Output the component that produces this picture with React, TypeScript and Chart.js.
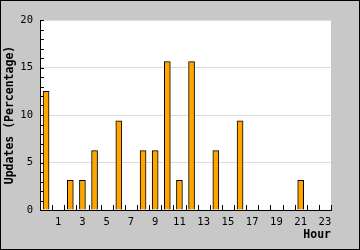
import React, { useEffect, useRef } from "react";
import { Chart, registerables } from "chart.js";

Chart.register(...registerables);

const hours: string[] = [
  "0", "1", "2", "3", "4", "5", "6", "7", "8", "9", "10", "11",
  "12", "13", "14", "15", "16", "17", "18", "19", "20", "21", "22", "23",
];
const updates: number[] = [
  12.5, 0, 3.125, 3.125, 6.25, 0, 9.375, 0, 6.25, 6.25, 15.625, 3.125,
  15.625, 0, 6.25, 0, 9.375, 0, 0, 0, 0, 3.125, 0, 0,
];
const xTickLabels: string[] = hours.map((h, i) => (i % 2 === 1 ? h : ""));
const yMin = 0;
const yMax = 20;
const yStep = 5;
const yMinorStep = 1;

const FONT = "'DejaVu Sans Mono', monospace";

const framePlugin = {
  id: "frame",
  beforeDraw(chart: any) {
    const { ctx, width, height, chartArea } = chart;
    ctx.save();
    ctx.fillStyle = "#c8c8c8";
    ctx.fillRect(0, 0, width, height);
    ctx.strokeStyle = "#000";
    ctx.lineWidth = 1;
    ctx.strokeRect(0.5, 0.5, width - 1, height - 1);
    ctx.fillStyle = "#fff";
    ctx.fillRect(
      chartArea.left,
      chartArea.top,
      chartArea.right - chartArea.left,
      chartArea.bottom - chartArea.top
    );
    ctx.restore();
  },
  afterDraw(chart: any) {
    const { ctx, chartArea } = chart;
    const xs = chart.scales.x;
    const ys = chart.scales.y;
    ctx.save();
    ctx.strokeStyle = "#000";
    ctx.lineWidth = 1;
    ctx.beginPath();
    // x ticks at category boundaries, pointing inward
    for (let i = 0; i <= hours.length; i++) {
      const px = Math.round(xs.getPixelForValue(i - 0.5)) + 0.5;
      ctx.moveTo(px, chartArea.bottom);
      ctx.lineTo(px, chartArea.bottom - 5);
    }
    // y minor ticks, pointing inward
    for (let v = yMin; v <= yMax; v += yMinorStep) {
      const py = Math.round(ys.getPixelForValue(v)) + 0.5;
      ctx.moveTo(chartArea.left, py);
      ctx.lineTo(chartArea.left + 4, py);
    }
    ctx.stroke();
    ctx.restore();
  },
};

export default function App() {
  const ref = useRef<HTMLCanvasElement>(null);
  useEffect(() => {
    if (!ref.current) return;
    const chart = new Chart(ref.current, {
      type: "bar",
      data: {
        labels: hours,
        datasets: [
          {
            data: updates,
            backgroundColor: "#ffa500",
            borderColor: "#000",
            borderWidth: 1,
            barThickness: 6,
          },
        ],
      },
      options: {
        responsive: false,
        animation: false,
        layout: { padding: { top: 20, right: 29, left: 0, bottom: 0 } },
        plugins: {
          legend: { display: false },
          tooltip: { enabled: false },
        },
        scales: {
          x: {
            type: "category",
            offset: true,
            grid: { display: false, drawTicks: false },
            border: { display: true, color: "#000", width: 1 },
            ticks: {
              autoSkip: false,
              maxRotation: 0,
              minRotation: 0,
              padding: 6,
              color: "#000",
              font: { family: FONT, size: 10.5 },
              callback: (_v: any, i: number) => xTickLabels[i],
            },
            title: {
              display: true,
              text: "Hour",
              align: "end",
              color: "#000",
              font: { family: FONT, size: 11.5, weight: "bold" },
              padding: { top: 0, bottom: 8 },
            },
            afterFit: (s: any) => {
              s.height = 40;
            },
          },
          y: {
            min: yMin,
            max: yMax,
            grid: { color: "#dcdcdc", drawTicks: false },
            border: { display: true, color: "#000", width: 1 },
            ticks: {
              stepSize: yStep,
              padding: 7,
              color: "#000",
              font: { family: FONT, size: 10.5 },
            },
            title: {
              display: true,
              text: "Updates (Percentage)",
              color: "#000",
              font: { family: FONT, size: 11.5, weight: "bold" },
              padding: { top: 3, bottom: 0 },
            },
            afterFit: (s: any) => {
              s.width = 40;
            },
          },
        },
      },
      plugins: [framePlugin],
    });
    return () => chart.destroy();
  }, []);
  return (
    <div style={{ position: "fixed", left: 0, top: 0, width: 360, height: 250 }}>
      <canvas ref={ref} width={360} height={250} style={{ display: "block" }} />
    </div>
  );
}
